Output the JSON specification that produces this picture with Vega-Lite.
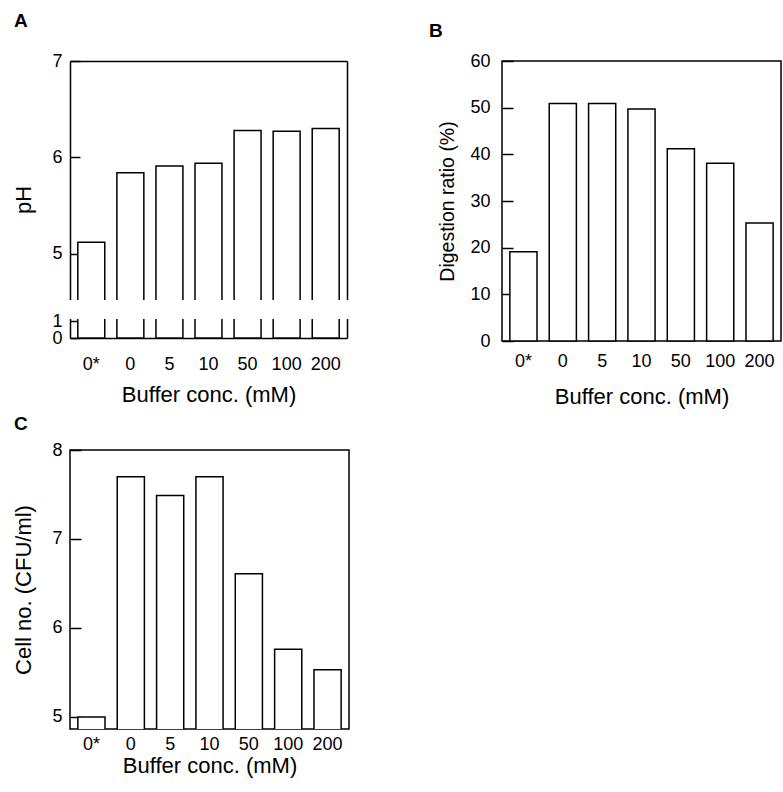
{
  "$schema": "https://vega.github.io/schema/vega-lite/v6.json",
  "padding": {"left": 12, "top": 12, "right": 2, "bottom": 2},
  "background": "white",
  "data": {"values": [
    {"conc": "0*", "ph": 5.12, "dig": 19.1, "cell": 5.0},
    {"conc": "0", "ph": 5.84, "dig": 50.9, "cell": 7.70},
    {"conc": "5", "ph": 5.91, "dig": 50.9, "cell": 7.49},
    {"conc": "10", "ph": 5.94, "dig": 49.7, "cell": 7.70},
    {"conc": "50", "ph": 6.28, "dig": 41.2, "cell": 6.61},
    {"conc": "100", "ph": 6.27, "dig": 38.1, "cell": 5.76},
    {"conc": "200", "ph": 6.30, "dig": 25.3, "cell": 5.53}
  ]},
  "columns": 2,
  "spacing": {"row": 109, "column": 153},
  "bounds": "flush",
  "concat": [
    {
      "width": 277, "height": 277,
      "view": {"stroke": null},
      "title": {"text": "A", "dx": -56, "offset": 6, "baseline": "alphabetic"},
      "layer": [
        {
          "mark": {"type": "bar", "fill": "white", "stroke": "black", "strokeWidth": 1.5},
          "encoding": {
            "x": {"field": "conc", "type": "nominal", "sort": null,
                  "scale": {"paddingInner": 0.31, "paddingOuter": 0.2},
                  "axis": {"orient": "bottom", "title": "Buffer conc. (mM)", "ticks": false, "tickSize": 0, "labelPadding": 17, "titlePadding": 11, "labelAngle": 0}},
            "y": {"field": "ph", "type": "quantitative",
                  "scale": {"domain": [0, 1.24, 4.5, 7], "range": [277, 256, 241, 0], "zero": false, "nice": false},
                  "axis": {"orient": "left", "values": [0, 1, 5, 6, 7], "title": "pH", "tickSize": -10, "labelPadding": 18, "titlePadding": 16, "labelOverlap": false, "labelFlush": false}},
            "y2": {"datum": 0}
          }
        },
        {
          "mark": {"type": "bar", "opacity": 0},
          "encoding": {
            "x": {"field": "conc", "type": "nominal", "sort": null,
                  "axis": {"orient": "top", "labels": false, "ticks": false, "title": null}},
            "y": {"field": "ph", "type": "quantitative",
                  "axis": {"orient": "right", "labels": false, "ticks": false, "title": null}}
          }
        },
        {
          "mark": {"type": "rect", "fill": "white", "stroke": "white", "strokeWidth": 3},
          "encoding": {
            "y": {"datum": 1.24, "type": "quantitative", "axis": null},
            "y2": {"datum": 4.5}
          }
        }
      ],
      "resolve": {"axis": {"x": "independent", "y": "independent"}}
    },
    {
      "width": 279, "height": 280,
      "title": {"text": "B", "dx": -73, "offset": -4, "baseline": "alphabetic"},
      "mark": {"type": "bar", "fill": "white", "stroke": "black", "strokeWidth": 1.5},
      "encoding": {
        "x": {"field": "conc", "type": "nominal", "sort": null,
              "scale": {"paddingInner": 0.31, "paddingOuter": 0.2},
              "axis": {"title": "Buffer conc. (mM)", "ticks": false, "tickSize": 0, "domain": false, "labelPadding": 11, "titlePadding": 16, "labelAngle": 0}},
        "y": {"field": "dig", "type": "quantitative",
              "scale": {"domain": [0, 60], "nice": false},
              "axis": {"values": [0, 10, 20, 30, 40, 50, 60], "title": "Digestion ratio (%)", "titleFontSize": 19.5, "tickSize": -11, "labelPadding": 23, "titlePadding": 12, "domain": false}}
      }
    },
    {
      "width": 279, "height": 279,
      "title": {"text": "C", "dx": -56, "offset": -8, "baseline": "alphabetic"},
      "mark": {"type": "bar", "fill": "white", "stroke": "black", "strokeWidth": 1.5, "clip": true},
      "encoding": {
        "x": {"field": "conc", "type": "nominal", "sort": null,
              "scale": {"paddingInner": 0.31, "paddingOuter": 0.2},
              "axis": {"title": "Buffer conc. (mM)", "ticks": false, "tickSize": 0, "domain": false, "labelPadding": 6, "titlePadding": 2, "labelAngle": 0}},
        "y": {"field": "cell", "type": "quantitative",
              "scale": {"domain": [4.865, 8], "nice": false, "zero": false},
              "axis": {"values": [5, 6, 7, 8], "title": "Cell no. (CFU/ml)", "tickSize": -11, "labelPadding": 19, "titlePadding": 16, "domain": false}},
        "y2": {"datum": 0}
      }
    }
  ],
  "config": {
    "font": "Liberation Sans",
    "view": {"stroke": "black", "strokeWidth": 1.5},
    "axis": {"labelFont": "Liberation Sans", "titleFont": "Liberation Sans", "labelFontSize": 18, "titleFontSize": 22, "titleFontWeight": "normal", "labelColor": "black", "titleColor": "black", "domainColor": "black", "tickColor": "black", "domainWidth": 1.5, "tickWidth": 1.5, "grid": false},
    "title": {"font": "Liberation Sans", "fontSize": 19, "fontWeight": "bold", "anchor": "start", "color": "black", "frame": "group"}
  }
}
